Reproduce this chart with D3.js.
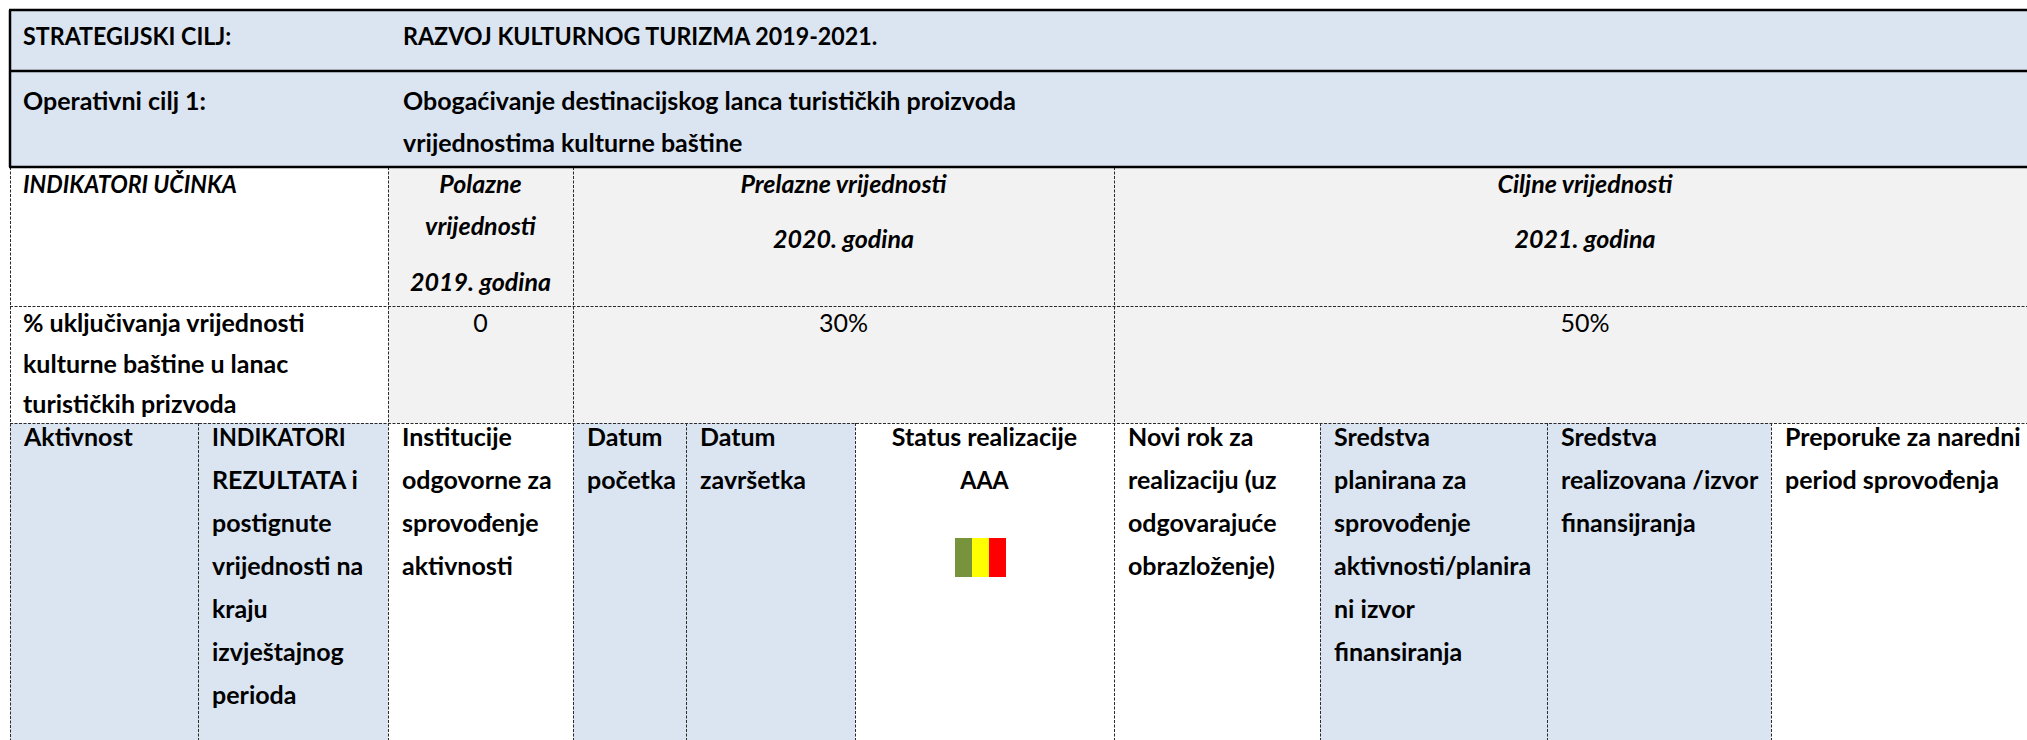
<!DOCTYPE html>
<html>
<head>
<meta charset="utf-8">
<script src="https://cdn.jsdelivr.net/npm/d3@7"></script>
<style>
  html, body { margin: 0; padding: 0; background: #ffffff; }
  svg { display: block; }
</style>
</head>
<body>
<svg id="chart" width="2027" height="740"></svg>
<script>
// ---------------- DATA ----------------
const strategicLabel = "STRATEGIJSKI CILJ:";
const strategicGoal = ["RAZVOJ KULTURNOG TURIZMA 2019-2021."];
const operativeLabel = "Operativni cilj 1:";
const operativeGoal = ["Obogaćivanje destinacijskog lanca turističkih proizvoda", "vrijednostima kulturne baštine"];

const indicatorHeader = ["INDIKATORI UČINKA"];
const periodNames = ["Polazne vrijednosti", "Prelazne vrijednosti", "Ciljne vrijednosti"];
const periodHeaderLines = [
  ["Polazne", "vrijednosti", "2019. godina"],
  ["Prelazne vrijednosti", "2020. godina"],
  ["Ciljne vrijednosti", "2021. godina"]
];
const indicatorName = ["% uključivanja vrijednosti", "kulturne baštine u lanac", "turističkih prizvoda"];
const indicatorValues = ["0", "30%", "50%"];

const activityHeaders = [
  ["Aktivnost"],
  ["INDIKATORI", "REZULTATA i", "postignute", "vrijednosti na", "kraju", "izvještajnog", "perioda"],
  ["Institucije", "odgovorne za", "sprovođenje", "aktivnosti"],
  ["Datum", "početka"],
  ["Datum", "završetka"],
  ["Status realizacije", "AAA"],
  ["Novi rok za", "realizaciju (uz", "odgovarajuće", "obrazloženje)"],
  ["Sredstva", "planirana za", "sprovođenje", "aktivnosti/planira", "ni izvor", "finansiranja"],
  ["Sredstva", "realizovana /izvor", "finansijranja"],
  ["Preporuke za naredni", "period sprovođenja"]
];
const activityShaded = [true, true, false, true, true, false, false, true, true, false];
const statusLevels = ["zeleno", "žuto", "crveno"];
const statusColors = ["#77933C", "#FFFF00", "#FF0000"];

// ---------------- LAYOUT ----------------
const W = 2027, H = 740;
const colEdges = [10, 198, 388, 573, 686, 855, 1114, 1320, 1547, 1771, 2056];
const rowEdges = [10, 71, 167, 306, 423, 800];
const x = d3.scaleOrdinal().domain(d3.range(colEdges.length)).range(colEdges);
const y = d3.scaleOrdinal().domain(d3.range(rowEdges.length)).range(rowEdges);
const lineH = 43;
const FONT = "Lato, 'Open Sans', sans-serif";
const FS = 25;
const BLUE = "#DBE5F1", GRAY = "#F2F2F2";

const svg = d3.select("#chart");
const gFill = svg.append("g");
const gLines = svg.append("g");
const gText = svg.append("g");

function txt(str, tx, ty, opt = {}) {
  const caps = /[A-ZČĆŽŠĐ]{3}/.test(str) && str === str.toUpperCase();
  const sx = caps ? 0.93 : 1;
  gText.append("text")
    .attr("transform", `translate(${tx},${ty}) scale(${sx},1)`)
    .attr("font-family", FONT)
    .attr("font-size", opt.size || FS)
    .attr("font-weight", opt.weight || "bold")
    .attr("font-style", opt.italic ? "italic" : "normal")
    .attr("text-anchor", opt.anchor || "start")
    .attr("fill", "#000")
    .text(str);
}

// ---- fills ----
gFill.append("rect").attr("x", x(0)).attr("y", y(0)).attr("width", W - x(0)).attr("height", y(2) - y(0)).attr("fill", BLUE);
const spans = [[0, 2], [2, 3], [3, 6], [6, 10]];
gFill.selectAll("rect.r34").data(spans).join("rect")
  .attr("class", "r34")
  .attr("x", d => x(d[0])).attr("y", y(2))
  .attr("width", d => x(d[1]) - x(d[0]))
  .attr("height", y(4) - y(2))
  .attr("fill", (d, i) => i === 0 ? "#FFFFFF" : GRAY);
gFill.selectAll("rect.r5").data(activityHeaders).join("rect")
  .attr("class", "r5")
  .attr("x", (d, i) => x(i)).attr("y", y(4))
  .attr("width", (d, i) => x(i + 1) - x(i))
  .attr("height", y(5) - y(4))
  .attr("fill", (d, i) => activityShaded[i] ? BLUE : "#FFFFFF");

// ---- lines ----
const dash = { stroke: "#2b2b2b", "stroke-width": 1, "stroke-dasharray": "3,1.5" };
function line(x1, y1, x2, y2, style) {
  const l = gLines.append("line").attr("x1", x1).attr("y1", y1).attr("x2", x2).attr("y2", y2);
  Object.entries(style).forEach(([k, v]) => l.attr(k, v));
}
line(x(0) + 0.5, y(2), x(0) + 0.5, H, dash);
[y(3), y(4)].forEach(yy => line(x(0), yy + 0.5, x(10), yy + 0.5, dash));
[2, 3, 6, 10].forEach(c => line(x(c) + 0.5, y(2), x(c) + 0.5, y(4), dash));
d3.range(1, 11).forEach(c => line(x(c) + 0.5, y(4), x(c) + 0.5, H, dash));
const solid = { stroke: "#000", "stroke-width": 2.5 };
[y(0), y(1), y(2)].forEach(yy => line(x(0) - 1, yy, W, yy, solid));
line(x(0), y(0), x(0), y(2), solid);

// ---- texts ----
const padL = 13;
// row 1
txt(strategicLabel, x(0) + padL, 45);
strategicGoal.forEach((s, i) => txt(s, x(2) + 15, 45 + i * lineH));
// row 2
txt(operativeLabel, x(0) + padL, 110);
operativeGoal.forEach((s, i) => txt(s, x(2) + 15, 110 + i * 42));
// row 3
txt(indicatorHeader[0], x(0) + padL, 193, { italic: true });
const periodSpans = spans.slice(1);
const periodBaselines = [[193, 235, 291], [193, 248], [193, 248]];
periodHeaderLines.forEach((lines, p) => {
  const cx = (x(periodSpans[p][0]) + x(periodSpans[p][1])) / 2;
  lines.forEach((s, i) => txt(s, cx, periodBaselines[p][i], { italic: true, anchor: "middle" }));
});
// row 4
indicatorName.forEach((s, i) => txt(s, x(0) + padL, 332 + i * 40.5));
indicatorValues.forEach((v, p) => {
  const cx = (x(periodSpans[p][0]) + x(periodSpans[p][1])) / 2;
  txt(v, cx, 332, { weight: "normal", anchor: "middle" });
});
// row 5
activityHeaders.forEach((lines, c) => {
  const centered = c === 5;
  const tx = centered ? (x(c) + x(c + 1)) / 2 : x(c) + padL + 1;
  lines.forEach((s, i) => txt(s, tx, 446 + i * lineH, { anchor: centered ? "middle" : "start" }));
});
// status swatches
const sw = d3.scaleBand().domain(statusLevels).range([955, 1006]).padding(0);
gFill.selectAll("rect.sw").data(statusLevels).join("rect")
  .attr("class", "sw")
  .attr("x", d => sw(d)).attr("y", 538)
  .attr("width", sw.bandwidth()).attr("height", 39)
  .attr("fill", (d, i) => statusColors[i]);
</script>
</body>
</html>
